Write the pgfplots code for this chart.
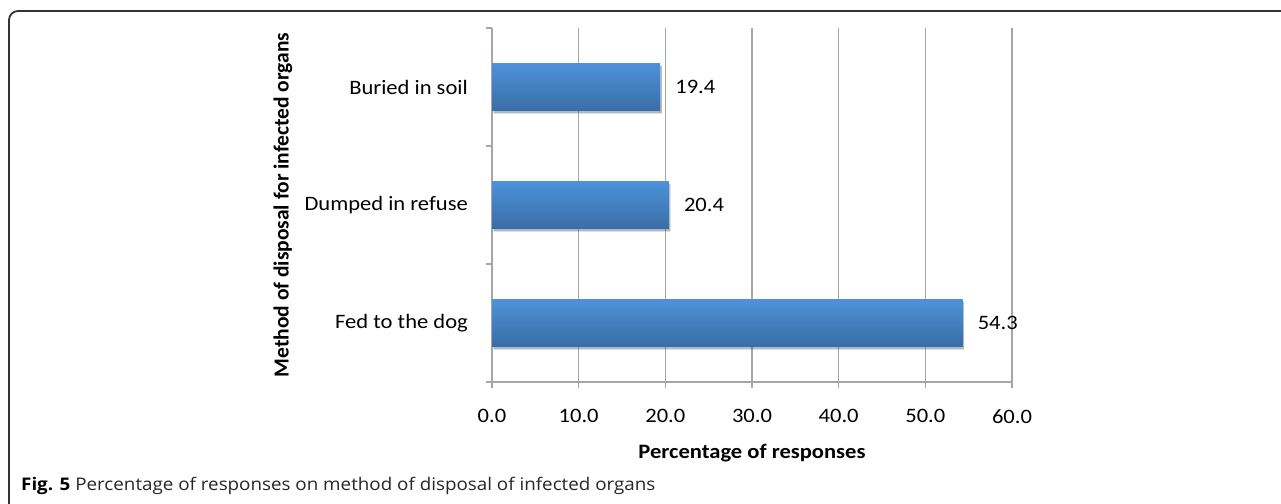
\documentclass[border=0pt]{standalone}
\usepackage{pgfplots}
\pgfplotsset{compat=1.18}
\usetikzlibrary{shadows}
\usepackage{fontspec}
\setmainfont{Carlito}[FakeStretch=1.1]
\newfontfamily\ylfont{Carlito}
\newfontfamily\capfont{Open Sans}[FakeStretch=1.08]
\definecolor{gridc}{HTML}{A6A6A6}
\definecolor{bartop}{HTML}{4D92DA}
\definecolor{barbot}{HTML}{3A6DA6}
\newcommand\tf{\fontsize{20.5bp}{24bp}\selectfont}
\begin{document}
\begin{tikzpicture}
\useasboundingbox (0,0) rectangle (1281bp,504bp);
\begin{scope}
\clip (0,0) rectangle (1281bp,504bp);
\draw[line width=1.8bp, color=black!80, rounded corners=9bp] (9bp,-10bp) -- (9bp,493bp) -- (1300bp,493bp);
\end{scope}
\node[anchor=west, inner sep=0pt] at (21bp,18bp) {\capfont\fontsize{17.4bp}{20bp}\selectfont\textbf{Fig. 5} \color{black!85}Percentage of responses on method of disposal of infected organs};
\begin{axis}[
  at={(492bp,122bp)}, anchor=south west,
  width=520bp, height=354bp, scale only axis,
  xmin=0, xmax=60, ymin=-0.5, ymax=2.5,
  xbar, bar width=0.4, bar shift=0pt,
  axis x line*=bottom, axis y line*=left,
  axis line style={draw=gridc, line width=1.4bp, -},
  xtick={0,10,...,60},
  ytick={0,1,2},
  yticklabels={Fed to the dog, Dumped in refuse, Buried in soil},
  minor ytick={-0.5,0.5,1.5,2.5},
  every major y tick/.style={draw=none},
  tick align=outside,
  major tick length=6bp, minor tick length=6bp,
  tick style={draw=gridc, line width=1.4bp},
  xmajorgrids,
  grid style={draw=gridc, line width=1.3bp},
  ticklabel style={font=\tf},
  yticklabel style={inner sep=0pt, xshift=-18bp},
  xticklabel style={inner sep=0pt, yshift=-21bp},
  xlabel={\textbf{Percentage of responses}},
  xlabel style={font=\tf, at={(axis description cs:0.5,-0.2)}, anchor=center},
  ylabel={\ylfont\textbf{Method of disposal for infected organs}},
  ylabel style={font=\fontsize{21.5bp}{24bp}\selectfont, at={(axis description cs:-0.402,0.5)}, anchor=center},
  nodes near coords, nodes near coords align={horizontal},
  point meta=x,
  every node near coord/.append style={font=\tf, anchor=west, inner sep=0pt, xshift=15bp, text=black},
  barstyle/.style={draw=none, top color=bartop, bottom color=barbot,
     drop shadow={shadow xshift=1.5bp, shadow yshift=-2.5bp, opacity=0.2, fill=black}},
  /pgf/number format/.cd, fixed, fixed zerofill, precision=1, assume math mode=true
]
\addplot[barstyle] coordinates {(54.3,0)};
\addplot[barstyle] coordinates {(20.4,1)};
\addplot[barstyle] coordinates {(19.4,2)};
\end{axis}
\end{tikzpicture}
\end{document}
